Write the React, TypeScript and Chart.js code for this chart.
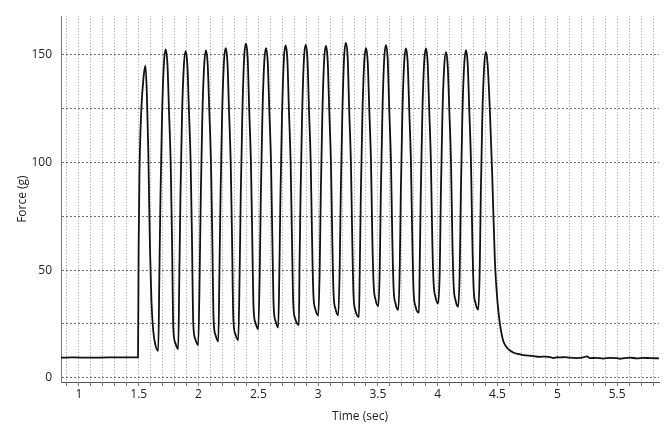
import React, { useEffect, useRef } from "react";
import { Chart, registerables } from "chart.js";

Chart.register(...registerables);

// Resting force before tapping starts (time sec, force g)
const restBefore: [number, number][] = [
  [0.85, 9.3], [0.95, 9.4], [1.1, 9.3], [1.25, 9.4], [1.4, 9.4], [1.494, 9.5],
];

// Tapping cycles (time sec, force g)
const tapping: [number, number][] = [
  [1.499, 60], [1.506, 95], [1.522, 125], [1.541, 140], [1.556, 145], [1.568, 132], [1.58, 105], [1.594, 60], [1.606, 36], [1.621, 22], [1.64, 15], [1.663, 12.5],
  [1.673, 50], [1.682, 85], [1.695, 122], [1.71, 145.6], [1.725, 152.6], [1.74, 145.6], [1.753, 124], [1.767, 100], [1.778, 65], [1.789, 23.3], [1.805, 16.3], [1.83, 13.3],
  [1.84, 50], [1.849, 85], [1.862, 122], [1.877, 144.7], [1.892, 151.7], [1.907, 144.7], [1.92, 124], [1.934, 100], [1.945, 65], [1.956, 25.1], [1.972, 18.1], [1.997, 15.1],
  [2.01, 50], [2.019, 85], [2.032, 122], [2.047, 145.1], [2.062, 152.1], [2.077, 145.1], [2.09, 124], [2.104, 100], [2.115, 65], [2.126, 26.8], [2.142, 19.8], [2.165, 16.8],
  [2.175, 50], [2.184, 85], [2.197, 122], [2.212, 146.2], [2.227, 153.2], [2.242, 146.2], [2.255, 124], [2.269, 100], [2.28, 65], [2.291, 27.4], [2.307, 20.4], [2.332, 17.4],
  [2.344, 50], [2.353, 85], [2.366, 122], [2.381, 148.2], [2.396, 155.2], [2.411, 148.2], [2.424, 124], [2.438, 100], [2.449, 65], [2.46, 32.5], [2.476, 25.5], [2.499, 22.5],
  [2.512, 50], [2.521, 85], [2.534, 122], [2.549, 146.2], [2.564, 153.2], [2.579, 146.2], [2.592, 124], [2.606, 100], [2.617, 65], [2.628, 33.3], [2.644, 26.3], [2.666, 23.3],
  [2.676, 50], [2.685, 85], [2.698, 122], [2.713, 147.4], [2.728, 154.4], [2.743, 147.4], [2.756, 124], [2.77, 100], [2.781, 65], [2.792, 34.5], [2.808, 27.5], [2.839, 24.5],
  [2.844, 50], [2.853, 85], [2.866, 122], [2.881, 147.7], [2.896, 154.7], [2.911, 147.7], [2.924, 124], [2.938, 100], [2.949, 65], [2.96, 39], [2.976, 32], [3.001, 29],
  [3.013, 50], [3.022, 85], [3.035, 122], [3.05, 147.2], [3.065, 154.2], [3.08, 147.2], [3.093, 124], [3.107, 100], [3.118, 65], [3.129, 39], [3.145, 32], [3.168, 29],
  [3.18, 50], [3.189, 85], [3.202, 122], [3.217, 148.6], [3.232, 155.6], [3.247, 148.6], [3.26, 124], [3.274, 100], [3.285, 65], [3.296, 38.2], [3.312, 31.2], [3.341, 28.2],
  [3.348, 50], [3.357, 85], [3.37, 122], [3.385, 146.2], [3.4, 153.2], [3.415, 146.2], [3.428, 124], [3.442, 100], [3.453, 65], [3.464, 43.3], [3.48, 36.3], [3.503, 33.3],
  [3.515, 50], [3.524, 85], [3.537, 122], [3.552, 147.5], [3.567, 154.5], [3.582, 147.5], [3.595, 124], [3.609, 100], [3.62, 65], [3.631, 41.5], [3.647, 34.5], [3.67, 31.5],
  [3.682, 50], [3.691, 85], [3.704, 122], [3.719, 146], [3.734, 153], [3.749, 146], [3.762, 124], [3.776, 100], [3.787, 65], [3.798, 40.2], [3.814, 33.2], [3.843, 30.2],
  [3.849, 50], [3.858, 85], [3.871, 122], [3.886, 146], [3.901, 153], [3.916, 146], [3.929, 124], [3.943, 100], [3.954, 65], [3.965, 44.5], [3.981, 37.5], [4.004, 34.5],
  [4.017, 50], [4.026, 85], [4.039, 122], [4.054, 144.3], [4.069, 151.3], [4.084, 144.3], [4.097, 124], [4.111, 100], [4.122, 65], [4.133, 43], [4.149, 36], [4.171, 33],
  [4.184, 50], [4.193, 85], [4.206, 122], [4.221, 145.2], [4.236, 152.2], [4.251, 145.2], [4.264, 124], [4.278, 100], [4.289, 65], [4.3, 41.7], [4.316, 34.7], [4.339, 31.7],
  [4.351, 50], [4.36, 85], [4.373, 122], [4.388, 144.4], [4.403, 151.4], [4.418, 145], [4.436, 124], [4.455, 95], [4.478, 54], [4.5, 35], [4.52, 25], [4.548, 17], [4.59, 13.3],
];

// Relaxation after tapping (time sec, force g)
const restAfter: [number, number][] = [
  [4.631, 11.7], [4.68, 10.9], [4.715, 10.5], [4.79, 10.1], [4.855, 9.7], [4.9, 9.8], [4.94, 9.6], [4.966, 9.1],
  [5.0, 9.5], [5.022, 9.4], [5.06, 9.6], [5.1, 9.3], [5.161, 9.1], [5.217, 9.4], [5.245, 9.9], [5.273, 9.1],
  [5.32, 9.2], [5.384, 8.9], [5.44, 9.2], [5.496, 9.1], [5.523, 8.8], [5.56, 9.1], [5.607, 9.3], [5.663, 9.0],
  [5.72, 9.2], [5.775, 9.1], [5.85, 9.0],
];

const xLabelValues = [1, 1.5, 2, 2.5, 3, 3.5, 4, 4.5, 5, 5.5];
const yLabelValues = [0, 50, 100, 150];
const yGridValues = [0, 25, 50, 75, 100, 125, 150];
const xMin = 0.85;
const xMax = 5.85;
const xGridStep = 0.1;
const yMin = -2;
const yMax = 168;

const FONT = "'Open Sans', 'DejaVu Sans', sans-serif";

export default function App() {
  const ref = useRef<HTMLCanvasElement | null>(null);

  useEffect(() => {
    if (!ref.current) return;
    const points = [...restBefore, ...tapping, ...restAfter].map(([x, y]) => ({ x, y }));
    const chart = new Chart(ref.current, {
      type: "line",
      data: {
        datasets: [
          {
            data: points,
            borderColor: "#111",
            borderWidth: 1.8,
            pointRadius: 0,
            fill: false,
            cubicInterpolationMode: "monotone",
          },
        ],
      },
      options: {
        animation: false,
        responsive: false,
        devicePixelRatio: 1,
        parsing: false,
        normalized: true,
        layout: { padding: { top: 13, right: 9, left: 0, bottom: 0 } },
        plugins: { legend: { display: false }, tooltip: { enabled: false } },
        scales: {
          x: {
            type: "linear",
            min: xMin,
            max: xMax,
            afterBuildTicks: (scale: any) => {
              const ticks = [];
              for (let v = Math.ceil(xMin / xGridStep) * xGridStep; v <= xMax + 1e-9; v += xGridStep) {
                ticks.push({ value: Math.round(v * 10) / 10 });
              }
              scale.ticks = ticks;
            },
            afterFit: (scale: any) => {
              scale.height = 56;
            },
            grid: {
              color: "#9a9a9a",
              lineWidth: 1,
              drawTicks: true,
              tickLength: 4,
              tickColor: "#777",
              tickBorderDash: [],
            },
            border: { display: true, color: "#555", width: 1, dash: [1, 2] },
            ticks: {
              autoSkip: false,
              maxRotation: 0,
              padding: 1,
              color: "#222",
              font: { family: FONT, size: 12 },
              callback: (value: any) => {
                const v = Math.round(Number(value) * 10) / 10;
                return xLabelValues.includes(v) ? String(v) : "";
              },
            },
            title: {
              display: true,
              text: "Time (sec)",
              color: "#222",
              font: { family: FONT, size: 12 },
              padding: { top: 0, bottom: 14 },
            },
          },
          y: {
            type: "linear",
            min: yMin,
            max: yMax,
            afterBuildTicks: (scale: any) => {
              scale.ticks = yGridValues.map((v) => ({ value: v }));
            },
            afterFit: (scale: any) => {
              scale.width = 61;
            },
            grid: {
              color: "#6e6e6e",
              lineWidth: 1,
              drawTicks: false,
            },
            border: { display: true, color: "#777", width: 1, dash: [2, 2] },
            ticks: {
              autoSkip: false,
              padding: 9,
              color: "#222",
              font: { family: FONT, size: 12 },
              callback: (value: any) => (yLabelValues.includes(Number(value)) ? String(value) : ""),
            },
            title: {
              display: true,
              text: "Force (g)",
              color: "#222",
              font: { family: FONT, size: 12 },
              padding: { top: 15, bottom: 0 },
            },
          },
        },
      } as any,
    });
    return () => chart.destroy();
  }, []);

  return (
    <div style={{ position: "fixed", left: 0, top: 0, width: 668, height: 438, background: "#fff" }}>
      <canvas ref={ref} width={668} height={438} style={{ display: "block" }} />
    </div>
  );
}
